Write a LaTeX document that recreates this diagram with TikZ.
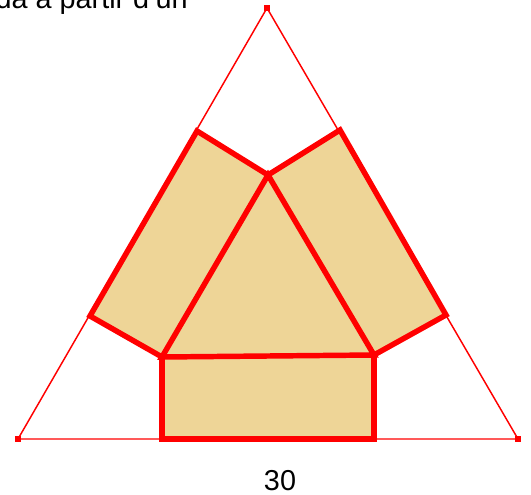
\documentclass[tikz,border=0pt]{standalone}
\usepackage{fontspec}
\setmainfont{Liberation Sans}
\definecolor{tan}{RGB}{238,213,151}
\definecolor{lred}{RGB}{255,0,0}
\tikzset{
  thin line/.style={draw=lred, line width=1.1pt},
  thick line/.style={draw=lred, line width=4.1pt},
  piece/.style={fill=tan},
  marker/.style={fill=lred, inner sep=0pt, minimum size=4pt, rectangle},
  label/.style={font=\fontsize{21.6}{24}\selectfont, inner sep=0pt}
}
\begin{document}
\begin{tikzpicture}[x=0.75pt,y=-0.75pt]
\useasboundingbox (0,0) rectangle (531,495);
% outer triangle
\coordinate (A) at (267,8);
\coordinate (B) at (18,439);
\coordinate (C) at (518,439);
% inner triangle
\coordinate (T) at (268,175);
\coordinate (L) at (162,357);
\coordinate (R) at (374,355);
% rectangle corners
\coordinate (BL) at (162,439);
\coordinate (BR) at (374,439);
\coordinate (LL) at (90,316);
\coordinate (LT) at (197,131);
\coordinate (RT) at (340,130);
\coordinate (RR) at (446,315);
% fills
\fill[piece] (T) -- (L) -- (R) -- cycle;
\fill[piece] (L) -- (R) -- (BR) -- (BL) -- cycle;
\fill[piece] (T) -- (L) -- (LL) -- (LT) -- cycle;
\fill[piece] (T) -- (R) -- (RR) -- (RT) -- cycle;
% outer triangle
\draw[thin line] (A) -- (B) -- (C) -- cycle;
% thick outlines
\draw[thick line] (T) -- (L) -- (R) -- cycle;
\draw[thick line] (L) -- (BL) -- (BR) -- (R);
\draw[thick line] (T) -- (LT) -- (LL) -- (L);
\draw[thick line] (T) -- (RT) -- (RR) -- (R);
% markers
\node[marker] (mA) at (A) {};
\node[marker] (mB) at (B) {};
\node[marker] (mC) at (C) {};
% texts
\node[label, anchor=base east] (top) at (188,9) {da a partir d'un};
\node[label, anchor=base] (num) at (280,490) {30};
\end{tikzpicture}
\end{document}
